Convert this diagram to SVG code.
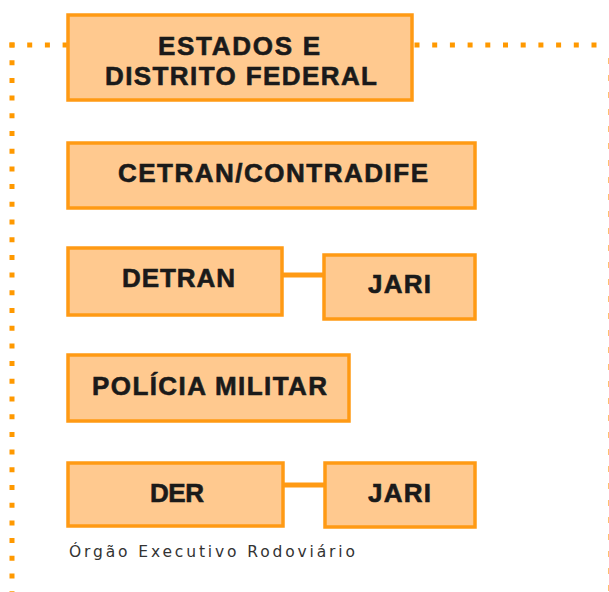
<svg xmlns="http://www.w3.org/2000/svg" width="609" height="592" viewBox="0 0 609 592">
<style>
.box{fill:#FFC98F;stroke:#FF9A14;stroke-width:3.5}
.lbl{font-family:"Liberation Sans",Arial,sans-serif;font-weight:bold;font-size:26px;fill:#1a1a1a;stroke:#1a1a1a;stroke-width:0.6}
.dot{stroke:#FF9900;stroke-width:5;stroke-dasharray:5 12.7;fill:none}
.link{stroke:#FF9A14;stroke-width:5;fill:none}
.cap{font-family:"DejaVu Sans",Verdana,sans-serif;font-size:15.5px;fill:#333}
</style>
<g id="frame">
<line class="dot" x1="12" y1="42.5" x2="12" y2="592"/>
<line class="dot" x1="9.5" y1="45" x2="68" y2="45"/>
<line class="dot" x1="414.5" y1="45" x2="609" y2="45"/>
<line x1="609" y1="58" x2="609" y2="592" stroke="#FFC070" stroke-width="2" stroke-dasharray="6 11"/>
</g>
<g id="connectors">
<line class="link" x1="282" y1="275" x2="324" y2="275"/>
<line class="link" x1="283" y1="485" x2="325" y2="485"/>
</g>
<g id="estados">
<rect class="box" x="68" y="15" width="344" height="85"/>
<text class="lbl" x="158" y="55" textLength="162" lengthAdjust="spacing">ESTADOS E</text>
<text class="lbl" x="105" y="85" textLength="272" lengthAdjust="spacing">DISTRITO FEDERAL</text>
</g>
<g id="cetran">
<rect class="box" x="68" y="143" width="407" height="65"/>
<text class="lbl" x="118" y="182" textLength="310" lengthAdjust="spacing">CETRAN/CONTRADIFE</text>
</g>
<g id="detran">
<rect class="box" x="68" y="248" width="214" height="67"/>
<text class="lbl" x="122" y="287" textLength="113" lengthAdjust="spacing">DETRAN</text>
</g>
<g id="jari1">
<rect class="box" x="324" y="255" width="151" height="64"/>
<text class="lbl" x="368" y="293" textLength="63" lengthAdjust="spacing">JARI</text>
</g>
<g id="policia">
<rect class="box" x="68" y="355" width="281" height="66"/>
<text class="lbl" x="92" y="395" textLength="235" lengthAdjust="spacing">POLÍCIA MILITAR</text>
</g>
<g id="der">
<rect class="box" x="68" y="463" width="215" height="63"/>
<text class="lbl" x="150" y="502" textLength="54" lengthAdjust="spacing">DER</text>
</g>
<g id="jari2">
<rect class="box" x="325" y="463" width="150" height="64"/>
<text class="lbl" x="368" y="502" textLength="63" lengthAdjust="spacing">JARI</text>
</g>
<text class="cap" x="69" y="557" textLength="286" lengthAdjust="spacing">Órgão Executivo Rodoviário</text>
</svg>
